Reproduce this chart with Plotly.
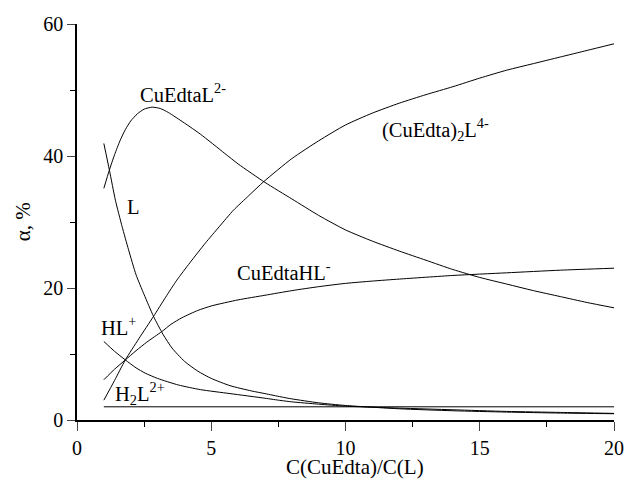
import plotly.graph_objects as go

# CuEdtaL2-
x_cuedtal = [1, 1.2, 1.4, 1.6, 1.8, 2.0, 2.25, 2.5, 2.8, 3.1, 3.4, 4, 4.6, 5.5, 6, 7, 8, 9, 10, 11, 12, 13, 14, 15, 16, 17, 18, 19, 20]
y_cuedtal = [35.1, 37.8, 40.2, 42.3, 44.0, 45.3, 46.4, 47.1, 47.4, 47.2, 46.6, 45.0, 43.3, 40.4, 38.8, 36.0, 33.5, 31.0, 28.8, 27.1, 25.6, 24.2, 22.8, 21.6, 20.6, 19.6, 18.7, 17.8, 17.0]

# L
x_l = [1, 1.21, 1.43, 1.68, 1.92, 2.2, 2.5, 2.85, 3.2, 3.54, 4, 4.5, 5, 5.7, 6.5, 7, 7.6, 8, 9, 10, 12, 14, 16, 18, 20]
y_l = [41.9, 37.8, 33.3, 29.3, 25.8, 22.0, 19.0, 15.7, 13.0, 10.9, 8.9, 7.4, 6.3, 5.2, 4.4, 4.0, 3.5, 3.2, 2.6, 2.2, 1.7, 1.4, 1.2, 1.05, 0.95]

# (CuEdta)2L4-
x_cu2l = [1, 1.4, 1.8, 2.3, 2.85, 3.3, 3.72, 4.2, 4.78, 5.3, 5.83, 6.4, 6.95, 8, 9, 10, 11, 12, 13, 14, 15, 16, 17, 18, 19, 20]
y_cu2l = [3.0, 6.0, 9.1, 12.3, 15.7, 18.6, 21.2, 23.8, 26.8, 29.3, 31.8, 34.0, 36.1, 39.6, 42.3, 44.7, 46.5, 48.0, 49.3, 50.5, 51.8, 53.0, 54.0, 55.0, 56.0, 57.0]

# CuEdtaHL-
x_cuhl = [1, 1.4, 1.8, 2.2, 2.6, 3.16, 3.5, 3.91, 4.5, 5.02, 6, 7, 8, 9, 10, 11, 12, 14, 16, 18, 20]
y_cuhl = [6.1, 7.7, 9.1, 10.5, 11.8, 13.4, 14.5, 15.5, 16.6, 17.3, 18.2, 18.9, 19.6, 20.2, 20.7, 21.05, 21.35, 21.9, 22.3, 22.7, 23.0]

# HL+
x_hl = [1, 1.4, 1.8, 2.2, 2.54, 3, 3.78, 4.6, 5.7, 7, 7.6, 8, 9, 10, 12, 14, 16, 18, 20]
y_hl = [11.9, 10.4, 9.1, 7.9, 7.1, 6.3, 5.3, 4.6, 4.0, 3.3, 2.95, 2.75, 2.4, 2.1, 1.8, 1.55, 1.3, 1.15, 1.0]

# H2L2+
x_h2l = [1, 20]
y_h2l = [2.0, 2.0]

x_ticks = [0, 5, 10, 15, 20]
y_ticks = [0, 20, 40, 60]

FONT = "Liberation Serif"

fig = go.Figure()
series = [(x_cuedtal, y_cuedtal), (x_l, y_l), (x_cu2l, y_cu2l), (x_cuhl, y_cuhl), (x_hl, y_hl), (x_h2l, y_h2l)]
for xs, ys in series:
    fig.add_trace(go.Scatter(x=xs, y=ys, mode="lines",
                             line=dict(color="black", width=1, shape="spline", smoothing=0.6),
                             showlegend=False, hoverinfo="skip"))

labels = [
    (2.29, 49.6, "CuEdtaL<sup>2-</sup>"),
    (1.78, 32.3, "L"),
    (11.27, 44.0, "(CuEdta)<sub>2</sub>L<sup>4-</sup>"),
    (5.87, 22.6, "CuEdtaHL<sup>-</sup>"),
    (0.83, 14.3, "HL<sup>+</sup>"),
    (1.33, 4.0, "H<sub>2</sub>L<sup>2+</sup>"),
]
for lx, ly, txt in labels:
    fig.add_annotation(x=lx, y=ly, text=txt, showarrow=False, xanchor="left", yanchor="middle",
                       font=dict(family=FONT, size=20.5, color="black"))

fig.add_annotation(xref="paper", yref="paper", x=0.518, y=-0.118, text="C(CuEdta)/C(L)",
                   showarrow=False, xanchor="center", yanchor="middle",
                   font=dict(family=FONT, size=21, color="black"))
fig.add_annotation(xref="paper", yref="paper", x=-0.1, y=0.5, text="α, %", textangle=-90,
                   showarrow=False, xanchor="center", yanchor="middle",
                   font=dict(family=FONT, size=21, color="black"))

fig.update_xaxes(range=[0, 20], tickvals=x_ticks, ticks="outside", ticklen=9, tickwidth=1.2,
                 showline=True, linewidth=1.5, linecolor="black", showgrid=False, zeroline=False,
                 automargin=False,
                 tickfont=dict(family=FONT, size=20, color="black"),
                 minor=dict(tickvals=[2.5, 7.5, 12.5, 17.5], ticks="outside", ticklen=5, tickwidth=1.2, tickcolor="black"))
fig.update_yaxes(range=[0, 60], tickvals=y_ticks, ticks="outside", ticklen=8, tickwidth=1.2,
                 showline=True, linewidth=1.5, linecolor="black", showgrid=False, zeroline=False,
                 automargin=False,
                 tickfont=dict(family=FONT, size=20, color="black"),
                 minor=dict(tickvals=[10, 30, 50], ticks="outside", ticklen=5, tickwidth=1.2, tickcolor="black"))

fig.update_layout(width=625, height=480, margin=dict(l=77, r=11, t=24, b=60),
                  plot_bgcolor="white", paper_bgcolor="white", showlegend=False)

# remove the default page margin so the 625x480 figure fills the window exactly
fig.write_html("out.html", config={"displayModeBar": False},
               post_script="document.body.style.margin='0px';document.body.style.overflow='hidden';")
